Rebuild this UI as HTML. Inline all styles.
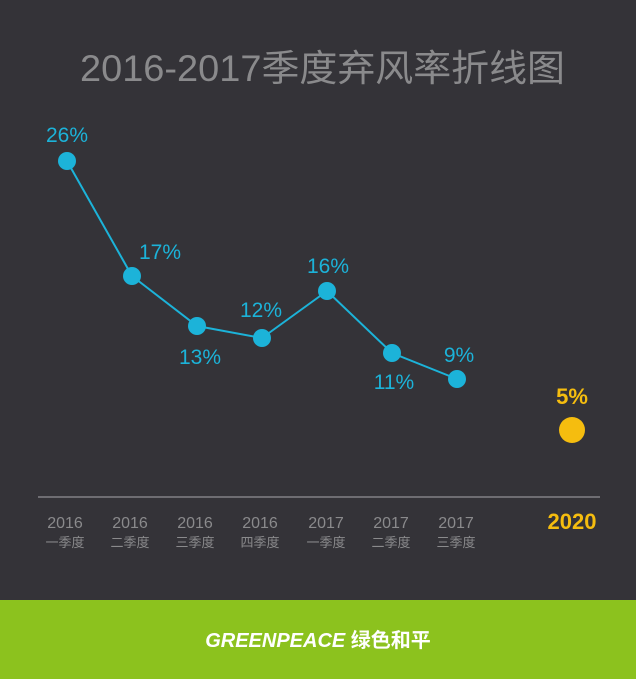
<!DOCTYPE html>
<html><head><meta charset="utf-8"><style>
body{margin:0;width:636px;height:679px;overflow:hidden;background:#343338}
</style></head><body>
<svg width="636" height="679" xmlns="http://www.w3.org/2000/svg" style="display:block;font-family:'Liberation Sans','Noto Sans CJK SC',sans-serif">
<rect width="636" height="600" fill="#343338"/>
<rect y="600" width="636" height="79" fill="#8cc21e"/>
<text x="80" y="81" textLength="485" lengthAdjust="spacingAndGlyphs" font-size="37" fill="#8a8a8c">2016-2017季度弃风率折线图</text>
<line x1="38" y1="497" x2="600" y2="497" stroke="#6e6d72" stroke-width="2"/>
<polyline points="67,161 132,276 197,326 262,338 327,291 392,353 457,379" fill="none" stroke="#1cb3d9" stroke-width="2"/>
<g fill="#1cb3d9">
<circle cx="67" cy="161" r="9"/><circle cx="132" cy="276" r="9"/><circle cx="197" cy="326" r="9"/><circle cx="262" cy="338" r="9"/><circle cx="327" cy="291" r="9"/><circle cx="392" cy="353" r="9"/><circle cx="457" cy="379" r="9"/>
</g>
<g fill="#1cb3d9" font-size="21" text-anchor="middle">
<text x="67" y="142">26%</text><text x="160" y="259">17%</text><text x="200" y="364">13%</text><text x="261" y="317">12%</text><text x="328" y="273">16%</text><text x="394" y="389">11%</text><text x="459" y="362">9%</text>
</g>
<circle cx="572" cy="430" r="13" fill="#f5bd0f"/>
<text x="572" y="404" text-anchor="middle" font-size="22" font-weight="bold" fill="#f5bd0f">5%</text>
<g fill="#8a8a8c" text-anchor="middle">
<g font-size="16"><text x="65" y="528">2016</text><text x="130" y="528">2016</text><text x="195" y="528">2016</text><text x="260" y="528">2016</text><text x="326" y="528">2017</text><text x="391" y="528">2017</text><text x="456" y="528">2017</text></g>
<g font-size="13"><text x="65" y="547">一季度</text><text x="130" y="547">二季度</text><text x="195" y="547">三季度</text><text x="260" y="547">四季度</text><text x="326" y="547">一季度</text><text x="391" y="547">二季度</text><text x="456" y="547">三季度</text></g>
</g>
<text x="572" y="529" text-anchor="middle" font-size="22" font-weight="bold" fill="#f5bd0f">2020</text>
<text x="318" y="647" text-anchor="middle" font-size="20" font-weight="bold" font-style="italic" fill="#fff">GREENPEACE <tspan font-style="normal">绿色和平</tspan></text>
</svg>
</body></html>
